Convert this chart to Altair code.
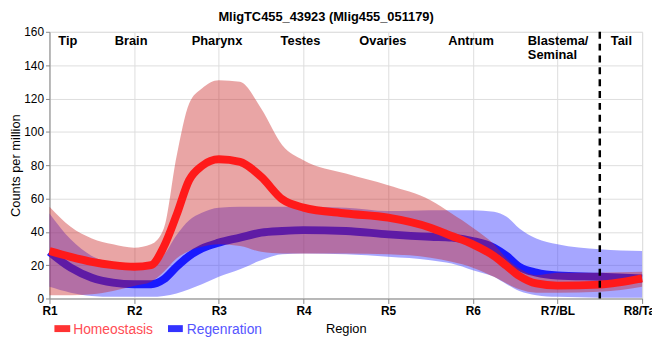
import altair as alt
import pandas as pd

# ---- data ----
positions = [1, 1.25, 1.5, 1.75, 2, 2.2, 2.35, 2.5, 2.65, 2.8, 3, 3.25, 3.5, 3.75,
             4, 4.5, 5, 5.5, 5.75, 6, 6.25, 6.4, 6.55, 6.75, 7, 7.5, 8]

homeo_mean = [28.5, 25, 22, 20, 19, 20, 31, 50, 71, 79.5, 83.5, 82, 73, 59.5,
              54.5, 51, 48.5, 42.5, 37.5, 32.5, 25.5, 19.5, 13.5, 9, 7.7, 8.3, 12]
homeo_low = [2, 2, 2.5, 4.5, 7.5, 10, 16, 24, 28.5, 31, 32.5, 31.5, 28, 27,
             27, 27, 26.5, 24.5, 22, 18.5, 13, 9, 5.5, 3.5, 3.5, 4, 7]
homeo_high = [55, 43, 36, 32.5, 30.5, 32.5, 42, 85, 117, 126, 131, 130, 114, 92,
              83, 75, 68, 59, 51, 42.5, 32.5, 24, 18, 14, 15.5, 15.5, 16]

regen_mean = [28, 18.5, 12.5, 9.5, 8.5, 8.5, 11.5, 19, 25.5, 30, 33.5, 36.5, 39.5, 40.5,
              41, 40.5, 38.5, 37, 36.5, 34.5, 30.5, 25.5, 19, 15.5, 13.8, 13, 12]
regen_low = [7, 3.5, 1.5, 1, 1, 1, 1.5, 3, 5.5, 8.5, 13, 17.5, 23, 26.5,
             27, 26.5, 25, 23, 21, 17, 13, 8.5, 4.5, 2, 1, 0.5, 0.5]
regen_high = [51, 35.5, 25.5, 21, 17.5, 19, 26, 38, 47, 51.5, 54.5, 55, 55, 55,
              55, 54.5, 52.5, 53, 53, 53, 52, 49, 42, 36, 32.5, 29.5, 28.5]

tick_values = [1, 2, 3, 4, 5, 6, 7, 8]
tick_labels = ["R1", "R2", "R3", "R4", "R5", "R6", "R7/BL", "R8/Tail"]

region_names = ["Tip", "Brain", "Pharynx", "Testes", "Ovaries", "Antrum",
                "Blastema/\nSeminal", "Tail"]
region_pos = [1.105, 1.77, 2.68, 3.73, 4.66, 5.71, 6.65, 7.63]

divider_pos = [7.5]

series_names = ["Homeostasis", "Regenration"]

# ---- tables ----
homeo = pd.DataFrame({"x": positions, "mean": homeo_mean, "lo": homeo_low, "hi": homeo_high})
regen = pd.DataFrame({"x": positions, "mean": regen_mean, "lo": regen_low, "hi": regen_high})
regions = pd.DataFrame({"x": region_pos, "name": region_names})
divider = pd.DataFrame({"x": divider_pos})

label_arr = "[" + ",".join("'" + t + "'" for t in tick_labels) + "]"

FONT = "Liberation Sans"


def xenc(field="x"):
    return alt.X(
        f"{field}:Q",
        title="Region",
        scale=alt.Scale(domain=[1, 8], nice=False, zero=False),
        axis=alt.Axis(
            values=tick_values,
            labelExpr=f"{label_arr}[datum.value - 1]",
            labelFontWeight="bold",
            labelFontSize=12,
            labelPadding=2,
            tickSize=5,
            labelOverlap=False,
            labelFlush=False,
            labelBound=False,
            titleFontSize=13,
            titleFontWeight="normal",
            titlePadding=6,
            grid=True,
        ),
    )


def yenc(field):
    return alt.Y(
        f"{field}:Q",
        title="Counts per million",
        scale=alt.Scale(domain=[0, 160], nice=False, zero=True),
        axis=alt.Axis(
            values=[0, 20, 40, 60, 80, 100, 120, 140, 160],
            labelFontSize=12,
            labelPadding=2,
            tickSize=4,
            titleFontSize=13,
            titleFontWeight="normal",
            titlePadding=1,
            grid=True,
        ),
    )


red_band_col = "rgb(200,30,30)"
blue_band_col = "rgb(60,60,255)"
red_line_col = "#ff1a1a"
blue_line_col = "#1a1aff"

blue_band = alt.Chart(regen).mark_area(
    color=blue_band_col, opacity=0.46, interpolate="monotone"
).encode(x=xenc(), y=yenc("lo"), y2="hi")

blue_line = alt.Chart(regen).mark_line(
    color=blue_line_col, strokeWidth=8, interpolate="monotone"
).encode(x=xenc(), y=yenc("mean"))

red_band = alt.Chart(homeo).mark_area(
    color=red_band_col, opacity=0.4, interpolate="monotone"
).encode(x=xenc(), y=yenc("lo"), y2="hi")

red_line = alt.Chart(homeo).mark_line(
    color=red_line_col, strokeWidth=8, interpolate="monotone"
).encode(x=xenc(), y=yenc("mean"))

divider_rule = alt.Chart(divider).mark_rule(
    color="black", strokeWidth=2.5, strokeDash=[7, 5]
).encode(x=xenc())

region_text = alt.Chart(regions).mark_text(
    align="left", baseline="alphabetic", fontSize=13, fontWeight="bold",
    font=FONT, color="black", lineBreak="\n", lineHeight=15
).encode(x=xenc(), y=alt.value(13), text="name:N")

# manual legend (decoration)
leg_df = pd.DataFrame({"k": [0]})
leg_red_sym = alt.Chart(leg_df).mark_rule(color="#ff3333", strokeWidth=7, strokeCap="butt").encode(
    x=alt.value(5), x2=alt.value(21), y=alt.value(300.5))
leg_red_txt = alt.Chart(leg_df).mark_text(
    align="left", baseline="alphabetic", fontSize=14, font=FONT, color="#ff4d55",
    text=series_names[0]).encode(x=alt.value(24), y=alt.value(305.5))
leg_blue_sym = alt.Chart(leg_df).mark_rule(color="#3333ff", strokeWidth=7, strokeCap="butt").encode(
    x=alt.value(120), x2=alt.value(135), y=alt.value(300.5))
leg_blue_txt = alt.Chart(leg_df).mark_text(
    align="left", baseline="alphabetic", fontSize=14, font=FONT, color="#5555ff",
    text=series_names[1]).encode(x=alt.value(139), y=alt.value(305.5))

chart = alt.layer(
    blue_band, blue_line, red_band, red_line, divider_rule, region_text,
    leg_red_sym, leg_red_txt, leg_blue_sym, leg_blue_txt,
).properties(
    width=600,
    height=270,
    autosize=alt.AutoSizeParams(type="none"),
    padding={"left": 42, "top": 22, "right": 10, "bottom": 46},
    title=alt.TitleParams(
        text="MligTC455_43923 (Mlig455_051179)",
        fontSize=13, fontWeight="bold", font=FONT, anchor="middle", dx=-20, offset=2,
        color="black",
    ),
).configure_axis(
    gridColor="#cccccc",
    gridWidth=1,
    domainColor="black",
    domainWidth=3,
    tickColor="black",
    labelColor="black",
    titleColor="black",
    labelFont=FONT,
    titleFont=FONT,
).configure_view(
    stroke="black", strokeWidth=1
).configure(background="white")

chart.save("out.html", embed_options={"renderer": "svg", "actions": False})
